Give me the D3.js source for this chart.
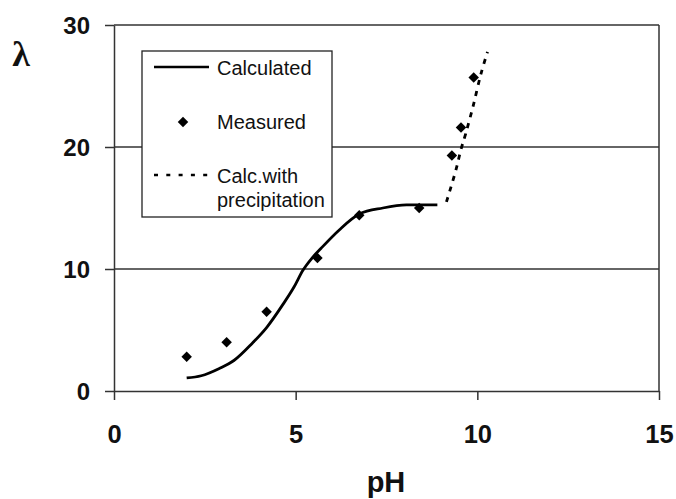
<!DOCTYPE html>
<html>
<head>
<meta charset="utf-8">
<script src="https://cdn.jsdelivr.net/npm/d3@7"></script>
<style>
  body { margin: 0; background: #fff; }
  svg text { font-family: "Liberation Sans", Arial, sans-serif; fill: #111; }
</style>
</head>
<body>
<div id="chart"></div>
<script>
// measured points
const measuredPH = [2.0, 3.1, 4.2, 5.6, 6.75, 8.4, 9.3, 9.55, 9.9];
const measuredLambda = [2.8, 4.0, 6.5, 10.9, 14.4, 15.0, 19.3, 21.6, 25.7];

// calculated curve
const calcPH = [2.0, 2.4, 2.9, 3.3, 3.8, 4.2, 4.65, 4.95, 5.2, 5.45, 5.7, 6.2, 6.75, 7.4, 8.05, 8.9];
const calcLambda = [1.07, 1.25, 1.85, 2.5, 3.9, 5.2, 7.1, 8.5, 9.9, 10.9, 11.7, 13.2, 14.5, 15.0, 15.25, 15.25];

// calc. with precipitation
const precPH = [9.15, 9.4, 9.55, 9.68, 9.88, 10.1, 10.28];
const precLambda = [15.5, 18.0, 19.8, 21.1, 23.3, 26.0, 27.8];

const xTicks = [0, 5, 10, 15];
const yTicks = [0, 10, 20, 30];

const width = 676, height = 499;
const margin = { top: 25, right: 17, bottom: 108, left: 114 };

const svg = d3.select("#chart").append("svg")
  .attr("width", width)
  .attr("height", height);

const x = d3.scaleLinear().domain([0, 15]).range([margin.left, width - margin.right]);
const y = d3.scaleLinear().domain([0, 30]).range([height - margin.bottom, margin.top]);

// gridlines
svg.append("g")
  .selectAll("line")
  .data(yTicks.filter(d => d > 0))
  .join("line")
  .attr("x1", x(0)).attr("x2", x(15))
  .attr("y1", d => y(d)).attr("y2", d => y(d))
  .attr("stroke", "#333").attr("stroke-width", 1.5);

// right border
svg.append("line")
  .attr("x1", x(15)).attr("x2", x(15))
  .attr("y1", y(30)).attr("y2", y(0))
  .attr("stroke", "#333").attr("stroke-width", 1.5);

// axes
const xAxis = svg.append("g")
  .attr("transform", `translate(0,${y(0)})`)
  .call(d3.axisBottom(x).tickValues(xTicks).tickSize(9).tickPadding(25).tickSizeOuter(0));
const yAxis = svg.append("g")
  .attr("transform", `translate(${x(0)},0)`)
  .call(d3.axisLeft(y).tickValues(yTicks).tickSize(9).tickPadding(15).tickSizeOuter(0));

[xAxis, yAxis].forEach(g => {
  g.selectAll("path, line").attr("stroke", "#333").attr("stroke-width", 1.5);
  g.selectAll("text").attr("font-weight", "bold").attr("fill", "#111");
});
xAxis.selectAll("text").attr("font-size", 25.5);
yAxis.selectAll("text").attr("font-size", 24).attr("dy", "0.36em");

// curves
const calcData = calcPH.map((p, i) => [p, calcLambda[i]]);
const precData = precPH.map((p, i) => [p, precLambda[i]]);
const line = d3.line().x(d => x(d[0])).y(d => y(d[1])).curve(d3.curveMonotoneX);

svg.append("path")
  .datum(calcData)
  .attr("d", line)
  .attr("fill", "none")
  .attr("stroke", "#000")
  .attr("stroke-width", 2.8);

svg.append("path")
  .datum(precData)
  .attr("d", d3.line().x(d => x(d[0])).y(d => y(d[1])).curve(d3.curveCatmullRom))
  .attr("fill", "none")
  .attr("stroke", "#000")
  .attr("stroke-width", 2.8)
  .attr("stroke-dasharray", "5,6");

// measured diamonds
const diamond = d3.symbol().type(d3.symbolSquare).size(55);
svg.append("g")
  .selectAll("path")
  .data(measuredPH.map((p, i) => [p, measuredLambda[i]]))
  .join("path")
  .attr("d", diamond)
  .attr("transform", d => `translate(${x(d[0])},${y(d[1])}) rotate(45)`)
  .attr("fill", "#000");

// legend
const legend = svg.append("g").attr("transform", "translate(142,51)");
legend.append("rect")
  .attr("width", 190).attr("height", 166)
  .attr("fill", "#fff").attr("stroke", "#222").attr("stroke-width", 1.3);

legend.append("line")
  .attr("x1", 12).attr("x2", 67).attr("y1", 16).attr("y2", 16)
  .attr("stroke", "#000").attr("stroke-width", 2.6);
legend.append("text").attr("x", 75).attr("y", 24).attr("font-size", 20).text("Calculated");

legend.append("path")
  .attr("d", diamond)
  .attr("transform", "translate(41,71) rotate(45)")
  .attr("fill", "#000");
legend.append("text").attr("x", 75).attr("y", 78).attr("font-size", 20).text("Measured");

legend.append("line")
  .attr("x1", 12).attr("x2", 67).attr("y1", 124).attr("y2", 124)
  .attr("stroke", "#000").attr("stroke-width", 2.6)
  .attr("stroke-dasharray", "4,8.3");
legend.append("text").attr("x", 75).attr("y", 132).attr("font-size", 20).text("Calc.with");
legend.append("text").attr("x", 75).attr("y", 156).attr("font-size", 20).text("precipitation");

// axis titles
svg.append("text")
  .attr("x", 386).attr("y", 492)
  .attr("text-anchor", "middle")
  .attr("font-size", 29).attr("font-weight", "bold")
  .text("pH");

svg.append("text")
  .attr("x", 21).attr("y", 66)
  .attr("text-anchor", "middle")
  .style("font-family", "'Liberation Serif', serif")
  .attr("font-size", 36).attr("font-weight", "bold")
  .text("λ");
</script>
</body>
</html>
